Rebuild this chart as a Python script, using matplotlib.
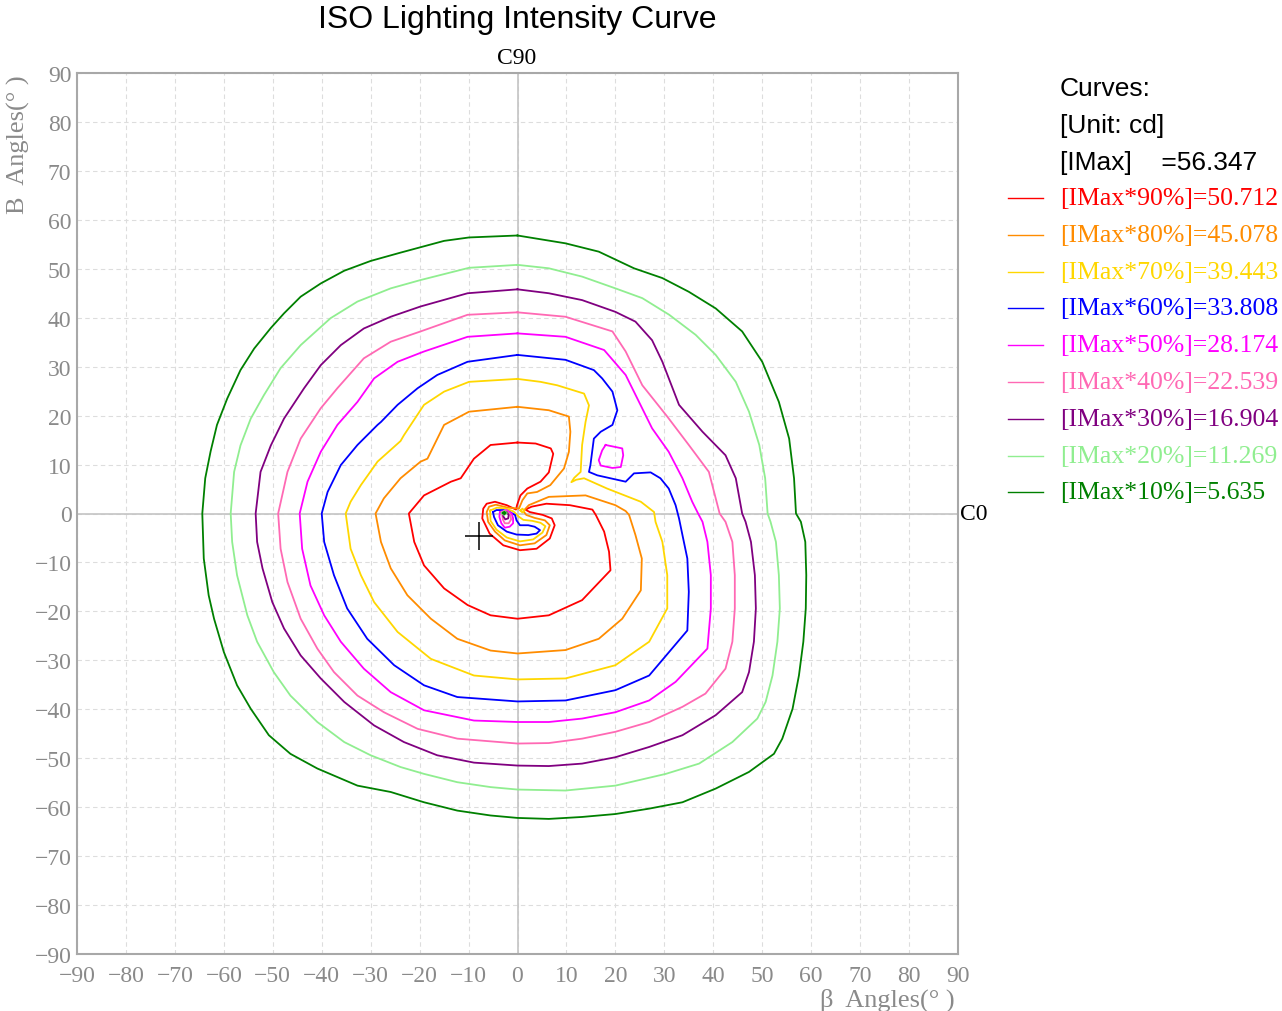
import matplotlib
matplotlib.use("Agg")
import matplotlib.pyplot as plt
from matplotlib.lines import Line2D

# ---------------- data ----------------
title = "ISO Lighting Intensity Curve"
imax = 56.347
levels_pct = [90, 80, 70, 60, 50, 40, 30, 20, 10]
level_vals = [50.712, 45.078, 39.443, 33.808, 28.174, 22.539, 16.904, 11.269, 5.635]
colors = ["#ff0000", "#ff8c00", "#ffd700", "#0000ff", "#ff00ff",
          "#ff69b4", "#800080", "#90ee90", "#008000"]
ticks = list(range(-90, 91, 10))
center_mark = (-7.9, -4.5)

c90 = [(0, 14.5), (3.7, 14.3), (6.8, 13.3), (7.3, 12.2), (6.4, 8.4), (4.7, 6.5), (2.0, 5.1),
       (0.6, 3.7), (-0.1, 1.7), (-0.3, 0.8), (-2.2, 1.7), (-4.6, 2.4), (-6.3, 2.0), (-7.0, 1.0),
       (-7.2, -1.0), (-5.7, -4.1), (-2.9, -6.5), (0.5, -7.5), (3.9, -7.2), (6.6, -5.1),
       (7.6, -2.4), (7.0, -1.0), (5.2, -0.3), (2.5, 0.3), (1.6, 0.8), (2.9, 1.4), (5.9, 2.0),
       (10.7, 1.7), (15.3, 0.8), (16.0, -0.3), (17.7, -3.7), (18.7, -7.8), (19.0, -11.6),
       (13.2, -17.7), (6.4, -20.8), (0, -21.5), (-5.5, -20.8), (-10.2, -18.7), (-15.0, -15.3),
       (-19.1, -10.6), (-21.1, -5.8), (-22.2, 0), (-19.1, 3.7), (-13.6, 6.5), (-11.6, 7.2),
       (-8.9, 11.2), (-5.5, 14.0), (0, 14.5)]

c80 = [(0, 21.8), (6.4, 21.1), (10.5, 19.8), (10.8, 16.7), (10.5, 12.6), (9.5, 9.2), (6.7, 5.8),
       (4.0, 4.4), (2.0, 4.1), (1.0, 2.7), (0.3, 1.0), (-2.0, 1.2), (-4.4, 1.8), (-5.8, 1.4),
       (-6.3, 0.3), (-6.0, -1.7), (-4.6, -3.7), (-2.6, -5.5), (0.5, -6.5), (3.5, -6.1),
       (5.9, -4.4), (6.6, -2.4), (5.6, -1.4), (3.5, -0.9), (1.8, -0.3), (1.2, 0.5), (2.3, 1.7),
       (6.4, 3.4), (13.9, 3.7), (20.0, 1.7), (22.1, 0.5), (22.8, -0.3), (24.1, -4.4),
       (25.4, -9.2), (25.2, -15.7), (21.4, -21.5), (16.6, -25.6), (9.8, -27.9), (0, -28.6),
       (-5.5, -28.0), (-12.3, -25.6), (-17.7, -21.5), (-22.5, -16.7), (-25.9, -11.2),
       (-27.9, -5.8), (-29.0, 0), (-27.3, 3.1), (-23.9, 7.2), (-19.8, 10.6), (-18.4, 11.2),
       (-15, 18.1), (-9.9, 20.8), (0, 21.8)]

c70 = [(0, 27.5), (4.7, 26.9), (8.1, 26.2), (13.6, 24.5), (14.6, 22.1), (13.9, 18.7),
       (13.2, 14.0), (12.9, 8.5), (11.6, 7.3), (11.0, 6.4), (12.0, 6.9), (13.6, 7.2),
       (18.3, 5.1), (25.2, 2.4), (27.9, 0.3), (28.2, -1.7), (29.6, -5.8), (30.6, -12.6),
       (30.6, -19.4), (26.9, -26.2), (20, -31.0), (9.8, -33.7), (0, -33.9), (-8.9, -33.1),
       (-17.7, -29.7), (-24.5, -24.2), (-29.3, -18.1), (-32.0, -12.6), (-34.1, -7.2),
       (-35.1, 0), (-34.1, 2.4), (-32.0, 5.8), (-28.6, 10.6), (-23.9, 14.8), (-23.2, 16.0),
       (-19.1, 22.2), (-15, 24.9), (-9.9, 26.9), (0, 27.5)]
c70_lobe = [(-5.6, 0.6), (-4.2, 1.2), (-2.3, 1.0), (-0.8, 0.4), (0.2, -0.6), (1.2, -1.3),
            (3.0, -1.5), (4.7, -1.9), (5.7, -2.6), (5.1, -3.9), (3.2, -5.3), (0.5, -5.7),
            (-2.2, -4.9), (-4.3, -3.3), (-5.5, -1.5), (-5.6, 0.6)]
c70_dot = [(0.6, 0.6), (1.0, 1.0), (1.4, 0.6), (1.0, 0.2), (0.6, 0.6)]

c60 = [(0, 32.4), (9.8, 31.4), (15.6, 29.3), (17.3, 27.6), (19.4, 24.9), (20.4, 21.1),
       (19.4, 18.1), (17.0, 16.7), (15.6, 15.3), (14.9, 9.9), (14.6, 8.5), (16.3, 7.8),
       (22.1, 6.5), (23.8, 8.2), (27.2, 8.4), (29.2, 7.2), (30.9, 5.1), (32.3, 1.7),
       (33.0, -1.0), (33.7, -4.4), (34.7, -9.2), (35.0, -16.0), (34.7, -23.9), (26.9, -33.1),
       (20, -36.1), (9.8, -38.2), (0, -38.4), (-12.3, -37.5), (-19.1, -35.1), (-25.2, -31.0),
       (-30.7, -25.6), (-34.8, -19.4), (-37.5, -12.6), (-39.5, -5.8), (-40.0, 0), (-38.8, 4.4),
       (-36.1, 9.9), (-32.7, 14.0), (-28.6, 18.1), (-27.9, 18.7), (-24.5, 22.2), (-20.4, 25.6),
       (-16.4, 28.3), (-10.2, 31.0), (0, 32.4)]
c60_lobe = [(-5.0, 0.3), (-4.3, 0.7), (-2.9, 0.7), (-1.6, 0.3), (-0.5, -0.3), (-0.2, -1.4),
            (0.5, -2.4), (2.2, -2.4), (3.5, -2.7), (4.6, -3.4), (3.9, -4.1), (2.2, -4.4),
            (-0.2, -4.3), (-2.2, -3.7), (-4.0, -2.4), (-4.8, -0.7), (-5.0, 0.3)]

c50 = [(0, 36.8), (9.8, 36.1), (17.7, 33.4), (22.1, 28.3), (27.5, 17.4), (30.9, 12.6),
       (33.7, 7.2), (35.7, 2.4), (36.9, 0), (37.8, -1.7), (38.8, -5.8), (39.5, -12.6),
       (39.5, -19.4), (38.8, -27.6), (32.3, -34.4), (26.9, -38.2), (20, -40.6), (13.2, -41.9),
       (6.4, -42.6), (0, -42.6), (-8.9, -42.3), (-19.1, -40.2), (-25.9, -36.5), (-31.4, -31.7),
       (-36.1, -26.2), (-39.5, -20.8), (-42.3, -14.7), (-44.0, -7.2), (-44.5, 0), (-42.9, 6.5),
       (-40.2, 12.6), (-36.8, 18.1), (-32.7, 22.8), (-29.3, 27.6), (-24.5, 31.0), (-19.1, 33.1),
       (-10.2, 36.1), (0, 36.8)]
c50_lobe = [(-3.6, 0.3), (-2.2, 0.7), (-1.2, 0.0), (-0.9, -1.0), (-0.9, -2.0), (-1.6, -2.7),
            (-2.6, -2.9), (-3.3, -2.0), (-3.7, -0.7), (-3.6, 0.3)]
c50_island = [(18.0, 14.0), (21.4, 13.3), (21.6, 11.9), (21.1, 9.5), (19.4, 9.3), (17.0, 9.8),
              (16.6, 10.9), (17.3, 12.9), (18.0, 14.0)]

c40 = [(0, 41.1), (9.8, 40.2), (19.4, 37.2), (22.1, 33.1), (25.5, 26.2), (30.6, 19.8),
       (35.0, 14.0), (39.1, 8.5), (41.3, 0), (42.5, -1.7), (43.9, -5.8), (44.4, -12.6),
       (44.4, -19.4), (43.9, -26.2), (42.5, -31.7), (38.4, -36.8), (33.7, -39.5), (26.9, -42.6),
       (20, -44.6), (13.2, -46.0), (6.4, -46.9), (0, -47.0), (-12.3, -46.0), (-20.4, -44.0),
       (-27.3, -40.6), (-32.7, -37.2), (-37.5, -32.4), (-40.9, -27.6), (-44.3, -21.5),
       (-47.0, -14.0), (-48.4, -7.2), (-48.9, 0), (-47.0, 8.5), (-44.3, 15.3), (-40.2, 21.5),
       (-36.8, 25.6), (-31.4, 31.7), (-25.9, 35.1), (-19.8, 37.2), (-10.2, 40.6), (0, 41.1)]
c40_lobe = [(-3.2, 0.3), (-2.2, 0.5), (-1.5, -0.2), (-1.3, -1.2), (-1.8, -2.0), (-2.6, -2.0),
            (-3.0, -1.2), (-3.2, 0.3)]

c30 = [(0, 45.8), (6.4, 45.0), (13.2, 43.6), (20.0, 41.2), (24.1, 39.2), (27.5, 35.4),
       (29.6, 31.0), (33.0, 22.2), (37.8, 16.7), (42.5, 11.9), (44.6, 7.2), (45.9, 0),
       (46.6, -1.7), (47.7, -5.8), (48.5, -12.6), (48.7, -19.4), (48.3, -26.2), (47.3, -32.4),
       (45.9, -36.5), (40.5, -41.2), (33.7, -45.3), (26.9, -47.7), (20.0, -49.8), (13.2, -51.1),
       (6.4, -51.6), (0, -51.5), (-8.9, -50.9), (-16.4, -49.4), (-23.2, -46.7), (-29.3, -43.3),
       (-35.4, -38.5), (-40.2, -33.7), (-44.3, -29.0), (-47.7, -23.5), (-50.1, -18.1),
       (-52.1, -11.2), (-53.2, -5.8), (-53.5, 0), (-52.5, 8.5), (-50.4, 13.9), (-47.7, 19.4),
       (-43.6, 25.6), (-40.2, 30.3), (-36.1, 34.4), (-31.4, 37.8), (-25.9, 40.2), (-19.8, 42.3),
       (-10.2, 45.0), (0, 45.8)]
c30_lobe = [(-2.9, 0.2), (-2.2, 0.3), (-1.8, -0.3), (-1.9, -1.0), (-2.5, -1.2), (-2.9, -0.6),
            (-2.9, 0.2)]

c20 = [(0, 50.8), (6.4, 50.1), (13.2, 48.4), (20.0, 46.0), (25.5, 44.0), (31.0, 40.6),
       (36.4, 36.5), (40.5, 32.4), (44.6, 26.9), (47.3, 20.8), (49.4, 14.0), (50.6, 7.2),
       (51.1, 0), (51.7, -1.7), (52.8, -5.8), (53.4, -12.6), (53.6, -19.4), (53.1, -26.2),
       (52.1, -33.1), (50.7, -38.5), (49.0, -41.9), (43.9, -46.7), (37.1, -51.1), (30.3, -53.2),
       (20, -55.6), (9.8, -56.6), (0, -56.4), (-5.5, -55.9), (-12.3, -54.9), (-19.1, -53.2),
       (-23.9, -51.8), (-30.0, -49.4), (-35.4, -46.7), (-40.9, -42.6), (-46.4, -37.2),
       (-49.8, -32.4), (-53.2, -26.2), (-55.2, -20.8), (-57.3, -12.6), (-58.3, -5.8),
       (-58.6, 0), (-57.9, 8.5), (-56.6, 13.9), (-54.5, 19.4), (-51.8, 24.2), (-48.4, 29.7),
       (-44.3, 34.4), (-38.2, 39.9), (-32.7, 43.3), (-25.9, 46.0), (-19.8, 47.7), (-9.9, 50.2),
       (0, 50.8)]
c20_lobe = [(-3.2, 0.1), (-2.7, 0.5), (-2.2, 0.1), (-2.7, -0.3), (-3.2, 0.1)]

c10 = [(0, 56.8), (9.8, 55.2), (16.6, 53.5), (23.8, 50.1), (29.6, 48.1), (35.0, 45.3),
       (40.5, 41.9), (45.9, 37.2), (50.0, 31.0), (53.4, 22.8), (55.5, 15.3), (56.5, 7.2),
       (56.9, 0), (57.9, -1.7), (58.8, -5.8), (59.0, -12.6), (58.9, -19.4), (58.4, -26.2),
       (57.5, -33.1), (56.2, -39.9), (54.1, -46.0), (52.4, -49.1), (47.3, -52.8), (40.5, -56.2),
       (33.7, -59.0), (26.9, -60.3), (20.0, -61.4), (13.2, -62.0), (6.4, -62.4), (0, -62.2),
       (-5.5, -61.7), (-12.3, -60.7), (-19.1, -59.0), (-25.9, -56.9), (-32.7, -55.6),
       (-40.9, -52.1), (-46.4, -49.1), (-50.8, -45.3), (-54.5, -39.9), (-57.3, -35.1),
       (-60.0, -28.3), (-62.0, -21.5), (-63.1, -16.7), (-64.1, -9.2), (-64.4, 0), (-63.8, 7.2),
       (-62.7, 12.7), (-61.4, 18.1), (-59.3, 23.5), (-56.6, 29.3), (-53.8, 33.7), (-50.4, 37.9),
       (-47.7, 40.9), (-44.3, 44.3), (-40.2, 47.0), (-35.4, 49.6), (-30.0, 51.6), (-23.9, 53.3),
       (-15, 55.7), (-9.9, 56.4), (0, 56.8)]
c10_lobe = [(-3.0, 0.1), (-2.7, 0.35), (-2.4, 0.1), (-2.7, -0.15), (-3.0, 0.1)]

curves = [
    [c90],
    [c80],
    [c70, c70_lobe, c70_dot],
    [c60, c60_lobe],
    [c50, c50_lobe, c50_island],
    [c40, c40_lobe],
    [c30, c30_lobe],
    [c20, c20_lobe],
    [c10, c10_lobe],
]

# ---------------- figure ----------------
W, H = 1282, 1012
fig = plt.figure(figsize=(W / 100, H / 100), dpi=100)
ax = fig.add_axes([77 / W, 1 - 955 / H, (958 - 77) / W, (955 - 74) / H])

serif = ["Liberation Serif", "DejaVu Serif"]
sans = ["Liberation Sans", "DejaVu Sans"]
grey = "#8a8a8a"

ax.set_xlim(-90, 90)
ax.set_ylim(-90, 90)
ax.set_xticks(ticks)
ax.set_yticks(ticks)
lbls = [f"{t}".replace("-", "\u2212") for t in ticks]
ax.set_xticklabels(lbls, family=serif, fontsize=17, color=grey)
ax.set_yticklabels(lbls, family=serif, fontsize=17, color=grey)
ax.tick_params(axis="x", length=0, pad=8)
ax.tick_params(axis="y", length=0, pad=4)
ax.grid(True, color="#dddddd", linestyle=(0, (4, 3)), linewidth=0.8)
ax.set_axisbelow(True)
for s in ax.spines.values():
    s.set_color("#a8a8a8")
    s.set_linewidth(1.5)
ax.axhline(0, color="#c4c4c4", lw=1.2, zorder=1)
ax.axvline(0, color="#c4c4c4", lw=1.2, zorder=1)

for col, parts in zip(colors, curves):
    for part in parts:
        xs = [p[0] for p in part]
        ys = [p[1] for p in part]
        ax.plot(xs, ys, color=col, lw=1.3, zorder=3, solid_joinstyle="round")

ax.plot([center_mark[0]], [center_mark[1]], marker="+", color="black", ms=20, mew=1.1, zorder=4)

# texts
fig.text(517 / W, 1 - 20 / H, title, ha="center", va="center", family=sans, fontsize=23)
fig.text(517 / W, 1 - 58 / H, "C90", ha="center", va="center", family=serif, fontsize=17)
fig.text(960 / W, 1 - 515 / H, "C0", ha="left", va="center", family=serif, fontsize=17)
fig.text(18 / W, 1 - 75 / H, "B  Angles(° )", rotation=90, ha="center", va="top",
         family=serif, fontsize=19, color=grey)
fig.text(955 / W, 1 - 1000 / H, "β  Angles(° )", ha="right", va="center",
         family=serif, fontsize=19, color=grey)

# legend
hdr = ["Curves:", "[Unit: cd]", f"[IMax]    ={imax}"]
for i, t in enumerate(hdr):
    fig.text(1060 / W, 1 - (89 + 37 * i) / H, t, ha="left", va="center", family=sans, fontsize=19)
for i, (p, v, col) in enumerate(zip(levels_pct, level_vals, colors)):
    yy = 1 - (199 + 36.8 * i) / H
    fig.add_artist(Line2D([1008 / W, 1043 / W], [yy, yy], color=col, lw=1.0))
    fig.text(1060 / W, yy, f"[IMax*{p}%]={v}", ha="left", va="center", family=serif,
             fontsize=18.5, color=col)

fig.savefig("out.png", dpi=100)
